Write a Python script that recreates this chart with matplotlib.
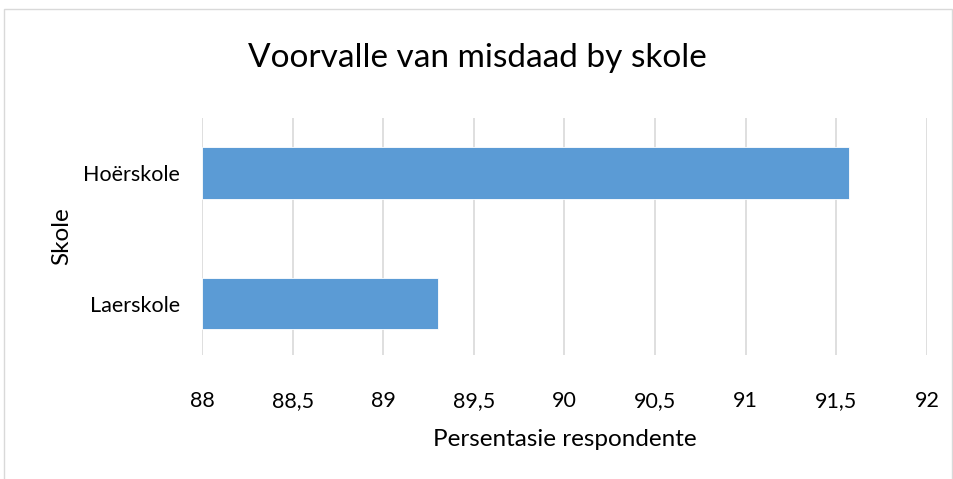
import matplotlib.pyplot as plt
from matplotlib.patches import Rectangle
from matplotlib.ticker import FuncFormatter

# data
schools = ["Laerskole", "Hoërskole"]
pct = [89.3, 91.57]
xticks = [88, 88.5, 89, 89.5, 90, 90.5, 91, 91.5, 92]

plt.rcParams["font.family"] = ["Lato", "DejaVu Sans"]

fig = plt.figure(figsize=(9.54, 4.79), dpi=100)
ax = fig.add_axes([0.2117, 0.2589, 0.76, 0.4948])

ax.barh(range(len(schools)), [v - 88 for v in pct], left=88, height=0.39,
        color="#5B9BD5", edgecolor="white", linewidth=0.6, zorder=3)

ax.set_xlim(88, 92)
ax.set_ylim(-0.39, 1.42)
ax.set_xticks(xticks)
ax.xaxis.set_major_formatter(FuncFormatter(lambda v, p: f"{v:g}".replace(".", ",")))
ax.set_yticks(range(len(schools)))
ax.set_yticklabels(schools)
ax.tick_params(length=0, labelsize=15.5, colors="black")
ax.tick_params(axis="x", pad=26)
ax.tick_params(axis="y", pad=16)
ax.grid(axis="x", color="#D9D9D9", lw=1.2, zorder=0)
for s in ax.spines.values():
    s.set_visible(False)

ax.set_xlabel("Persentasie respondente", fontsize=17.5, labelpad=13)
ax.set_ylabel("Skole", fontsize=17.5, labelpad=8)
fig.text(0.5, 0.860, "Voorvalle van misdaad by skole", ha="center", va="baseline", fontsize=24)

# chart area border
fig.patches.append(Rectangle((4 / 954, -0.01), 948 / 954, 1 - 9 / 479 + 0.01,
                             transform=fig.transFigure, fill=False,
                             edgecolor="#D9D9D9", lw=1))

fig.savefig("out.png", dpi=100)
